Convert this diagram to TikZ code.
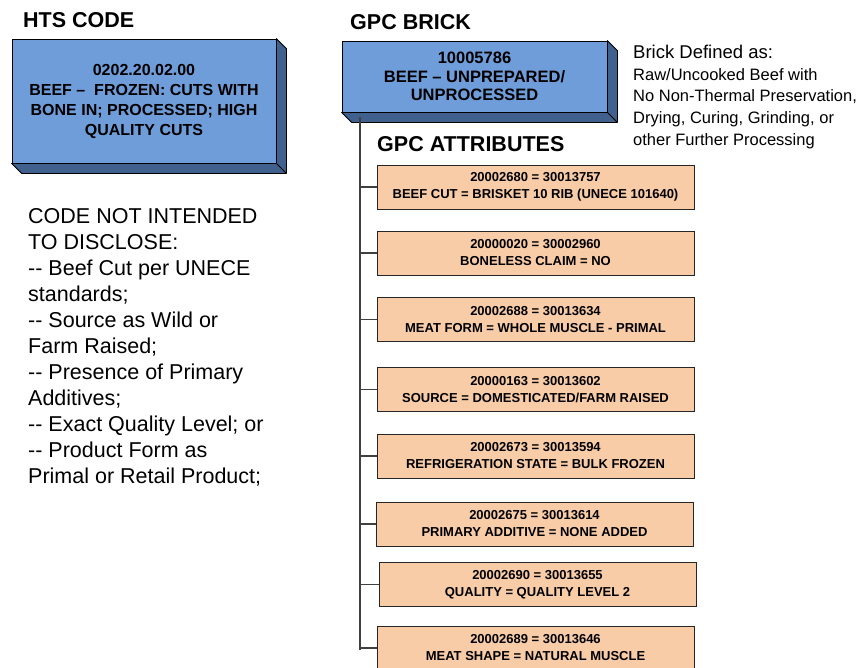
\documentclass[tikz,border=0pt]{standalone}
\usepackage{fontspec}
\setmainfont{Liberation Sans}
\definecolor{bluefront}{HTML}{6F9DDA}
\definecolor{blueside}{HTML}{40608E}
\definecolor{peach}{HTML}{F9CCA8}
\begin{document}
\begin{tikzpicture}[x=1pt,y=-1pt,
  front/.style={draw=black, line width=0.8pt, fill=bluefront, rectangle, inner sep=0pt, align=center},
  attr/.style={draw=black!85, line width=0.9pt, fill=peach, rectangle, minimum width=317pt, minimum height=44pt, inner sep=0pt, align=center, font=\bfseries\fontsize{13}{17}\selectfont},
  heading/.style={anchor=west, inner sep=0pt, font=\bfseries\fontsize{21.5}{25}\selectfont},
  side/.style={draw=black, line width=0.8pt, fill=blueside, line join=round},
  trunk/.style={draw=black!75, line width=2pt},
  branch/.style={draw=black!75, line width=1.3pt}]
\clip (0,0) rectangle (859,667);
\fill[white] (0,0) rectangle (859,667);

% titles
\node[heading] (htstitle) at (23,20) {HTS CODE};
\node[heading] (gpctitle) at (350,22) {GPC BRICK};
\node[heading] (attrtitle) at (377,144) {GPC ATTRIBUTES};

% HTS box
\node[front, minimum width=264pt, minimum height=124pt, font=\bfseries\fontsize{16}{20}\selectfont] (hts) at (144,101)
  {0202.20.02.00\\BEEF --\ \ FROZEN: CUTS WITH\\BONE IN; PROCESSED; HIGH\\QUALITY CUTS};
\draw[side] (hts.north east) -- ++(10,10) -- ([shift={(10pt,-10pt)}]hts.south east) -- ([shift={(10pt,-10pt)}]hts.south west) -- (hts.south west) -- (hts.south east) -- cycle;
\draw[black, line width=0.8pt] (hts.south east) -- ++(10,10);

% GPC brick
\node[front, minimum width=265pt, minimum height=71pt, font=\bfseries\fontsize{16.5}{18.5}\selectfont] (brick) at (474.5,76.5)
  {10005786\\BEEF -- UNPREPARED/\\UNPROCESSED};
\draw[side] (brick.north east) -- ++(10,10) -- ([shift={(10pt,-10pt)}]brick.south east) -- ([shift={(10pt,-10pt)}]brick.south west) -- (brick.south west) -- (brick.south east) -- cycle;
\draw[black, line width=0.8pt] (brick.south east) -- ++(10,10);

% brick definition
\node[anchor=west, inner sep=0pt, font=\fontsize{18.5}{22}\selectfont] (deftitle) at (633,52) {Brick Defined as:};
\node[anchor=north west, inner sep=0pt, align=left, font=\fontsize{16.5}{21.7}\selectfont] (defbody) at (633,68)
  {Raw/Uncooked Beef with\\No Non-Thermal Preservation,\\Drying, Curing, Grinding, or\\other Further Processing};

% left text
\node[anchor=north west, inner sep=0pt, align=left, font=\fontsize{21.5}{26}\selectfont] (note) at (28,208)
  {CODE NOT INTENDED\\TO DISCLOSE:\\-{}- Beef Cut per UNECE\\standards;\\-{}- Source as Wild or\\Farm Raised;\\-{}- Presence of Primary\\Additives;\\-{}- Exact Quality Level; or\\-{}- Product Form as\\Primal or Retail Product;};

% attributes
\node[attr] (a1) at (535.5,187) {20002680 = 30013757\\BEEF CUT = BRISKET 10 RIB (UNECE 101640)};
\node[attr] (a2) at (535.5,253) {20000020 = 30002960\\BONELESS CLAIM = NO};
\node[attr] (a3) at (535.5,319.5) {20002688 = 30013634\\MEAT FORM = WHOLE MUSCLE - PRIMAL};
\node[attr] (a4) at (535.5,389.5) {20000163 = 30013602\\SOURCE = DOMESTICATED/FARM RAISED};
\node[attr] (a5) at (535.5,456) {20002673 = 30013594\\REFRIGERATION STATE = BULK FROZEN};
\node[attr] (a6) at (534.5,524) {20002675 = 30013614\\PRIMARY ADDITIVE = NONE ADDED};
\node[attr] (a7) at (537.5,584.5) {20002690 = 30013655\\QUALITY = QUALITY LEVEL 2};
\node[attr] (a8) at (535.5,648) {20002689 = 30013646\\MEAT SHAPE = NATURAL MUSCLE};

% tree connectors
\coordinate (trunktop) at (360,117);
\coordinate (trunkbot) at (360,650);
\draw[trunk] (trunktop) -- (trunkbot);
\foreach \n in {a1,a2,a3,a4,a5,a6,a7,a8}
  \draw[branch] (\n.west -| trunktop) -- (\n.west);
\end{tikzpicture}
\end{document}
